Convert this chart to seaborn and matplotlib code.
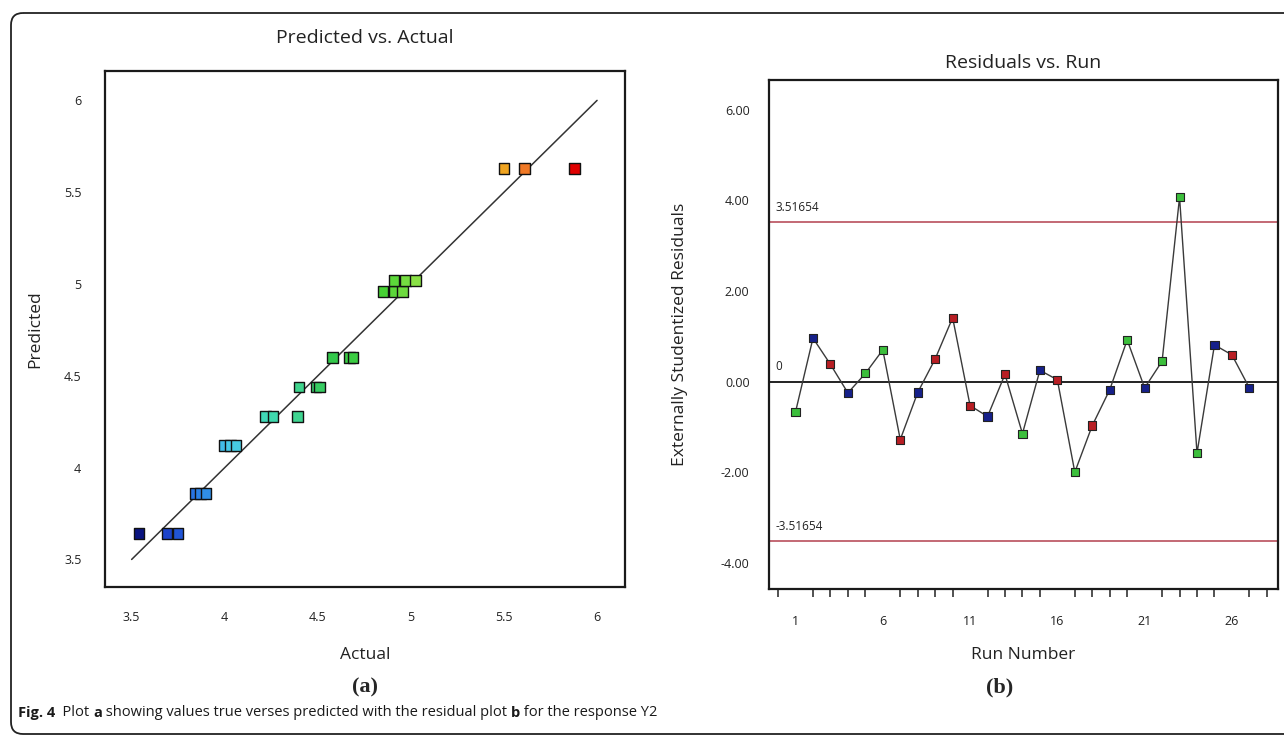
import numpy as np
import pandas as pd
import matplotlib
matplotlib.use("Agg")
import matplotlib.pyplot as plt
import seaborn as sns
from matplotlib.colors import LinearSegmentedColormap
from matplotlib.patches import FancyBboxPatch
from matplotlib.ticker import FixedLocator, MultipleLocator

# ---------------- data ----------------
actual = [3.54, 3.69, 3.75, 3.84, 3.87, 3.90, 4.00, 4.03, 4.06,
          4.22, 4.26, 4.39, 4.40, 4.49, 4.51, 4.58, 4.67, 4.69,
          4.85, 4.91, 4.955, 4.91, 4.97, 5.025, 5.50, 5.61, 5.88]
predicted = [3.64, 3.64, 3.64, 3.86, 3.86, 3.86, 4.12, 4.12, 4.12,
             4.28, 4.28, 4.28, 4.44, 4.44, 4.44, 4.60, 4.60, 4.60,
             4.96, 4.96, 4.96, 5.02, 5.02, 5.02, 5.63, 5.63, 5.63]
ref_line = [3.5, 6.0]
pa_ticks = [3.5, 4, 4.5, 5, 5.5, 6]
pa_ticklabels = ["3.5", "4", "4.5", "5", "5.5", "6"]

runs = list(range(1, 28))
residuals = [-0.67, 0.96, 0.38, -0.25, 0.18, 0.70, -1.28, -0.24, 0.50,
             1.41, -0.53, -0.77, 0.16, -1.15, 0.25, 0.04, -2.00, -0.97,
             -0.18, 0.92, -0.14, 0.45, 4.07, -1.58, 0.81, 0.59, -0.14]
run_group = ["g", "b", "r", "b", "g", "g", "r", "b", "r",
             "r", "r", "b", "r", "g", "b", "r", "g", "r",
             "b", "g", "b", "g", "g", "g", "b", "r", "b"]
limit = 3.51654
res_ticks = [-4, -2, 0, 2, 4, 6]
res_ticklabels = ["-4.00", "-2.00", "0.00", "2.00", "4.00", "6.00"]
run_major = [1, 6, 11, 16, 21, 26]

df_pa = pd.DataFrame({"Actual": actual, "Predicted": predicted})
df_run = pd.DataFrame({"Run": runs, "Residual": residuals, "Group": run_group})

# ---------------- style ----------------
sns.set_theme(style="white")
plt.rcParams["font.family"] = ["Open Sans", "DejaVu Sans"]

W, H = 1284, 736
fig = plt.figure(figsize=(W / 100, H / 100), dpi=100)

def ax_rect(x0, y0, x1, y1):
    return [x0 / W, 1 - y1 / H, (x1 - x0) / W, (y1 - y0) / H]

# background axes in pixel coordinates for frame + caption
bg = fig.add_axes([0, 0, 1, 1], zorder=-5)
bg.set_xlim(0, W)
bg.set_ylim(H, 0)
bg.axis("off")
bg.add_patch(FancyBboxPatch((11, 13), 1320, 721,
                            boxstyle="round,pad=0,rounding_size=12",
                            fill=False, lw=1.3, ec="#222222"))

ax1 = fig.add_axes(ax_rect(105, 71, 625, 587))
ax2 = fig.add_axes(ax_rect(769, 80, 1278, 589))

for ax in (ax1, ax2):
    for s in ax.spines.values():
        s.set_color("#1a1a1a")
        s.set_linewidth(1.6)
    ax.tick_params(direction="out", color="#222222", width=1.2,
                   labelsize=9, labelcolor="#222222")

# ---------- left panel: predicted vs actual ----------
cmap = LinearSegmentedColormap.from_list("de", [
    (0.00, "#0a1480"), (0.07, "#1e48d2"), (0.14, "#2a80e6"),
    (0.21, "#48cbe8"), (0.30, "#3fd8b0"), (0.37, "#3fd48c"),
    (0.44, "#33c84c"), (0.56, "#46d234"), (0.63, "#86e045"),
    (0.73, "#c8d840"), (0.84, "#f0a420"), (0.90, "#f06c28"),
    (1.00, "#e00000")])
sns.lineplot(x=ref_line, y=ref_line, ax=ax1, color="#333333", lw=1.1,
             zorder=1)
sns.scatterplot(data=df_pa, x="Actual", y="Predicted", hue="Actual",
                palette=cmap, hue_norm=(min(actual), max(actual)),
                marker="s", s=58, edgecolor="#111111", linewidth=1.0,
                legend=False, ax=ax1, zorder=3)
ax1.set_xlim(3.357, 6.15)
ax1.set_ylim(3.35, 6.16)
ax1.xaxis.set_major_locator(FixedLocator(pa_ticks))
ax1.yaxis.set_major_locator(FixedLocator(pa_ticks))
ax1.set_xticklabels(pa_ticklabels)
ax1.set_yticklabels(pa_ticklabels)
ax1.tick_params(axis="both", length=9, pad=8)
ax1.set_title("Predicted vs. Actual", fontsize=14, color="#222222", pad=20)
ax1.set_xlabel("Actual", fontsize=12.5, color="#222222")
ax1.set_ylabel("Predicted", fontsize=12.5, color="#222222")
ax1.xaxis.set_label_coords(0.5, -0.132)
ax1.xaxis.label.set_va("center")
ax1.yaxis.set_label_coords(-0.135, 0.5)
ax1.yaxis.label.set_va("center")

# ---------- right panel: residuals vs run ----------
ax2.axhline(0, color="#111111", lw=1.3, zorder=1)
ax2.axhline(limit, color="#b3404e", lw=1.1, zorder=1)
ax2.axhline(-limit, color="#b3404e", lw=1.1, zorder=1)
sns.lineplot(data=df_run, x="Run", y="Residual", ax=ax2, color="#3a3a3a",
             lw=1.0, sort=False, zorder=2)
sns.scatterplot(data=df_run, x="Run", y="Residual", hue="Group",
                palette={"g": "#3cbf3c", "b": "#16208a", "r": "#b81e24"},
                marker="s", s=34, edgecolor="#222222", linewidth=0.8,
                legend=False, ax=ax2, zorder=3)
ax2.set_xlim(-0.52, 28.64)
ax2.set_ylim(-4.58, 6.66)
ax2.xaxis.set_major_locator(FixedLocator(run_major))
ax2.xaxis.set_minor_locator(MultipleLocator(1))
ax2.yaxis.set_major_locator(FixedLocator(res_ticks))
ax2.set_yticklabels(res_ticklabels)
ax2.tick_params(axis="x", which="major", length=12, pad=7)
ax2.tick_params(axis="x", which="minor", length=6, width=1.1,
                color="#222222", bottom=True)
ax2.tick_params(axis="y", length=9, pad=5)
ax2.set_title("Residuals vs. Run", fontsize=14, color="#222222", pad=9)
ax2.set_xlabel("Run Number", fontsize=12.5, color="#222222")
ax2.set_ylabel("Externally Studentized Residuals", fontsize=12.5,
               color="#222222")
ax2.xaxis.set_label_coords(0.5, -0.13)
ax2.xaxis.label.set_va("center")
ax2.yaxis.set_label_coords(-0.175, 0.5)
ax2.yaxis.label.set_va("center")

blend = ax2.get_yaxis_transform()
ax2.text(0.012, limit + 0.18, "3.51654", transform=blend, fontsize=8.5,
         color="#222222", va="bottom", ha="left")
ax2.text(0.012, -limit + 0.18, "-3.51654", transform=blend, fontsize=8.5,
         color="#222222", va="bottom", ha="left")
ax2.text(0.012, 0.18, "0", transform=blend, fontsize=8.5,
         color="#222222", va="bottom", ha="left")

# ---------- panel letters & caption ----------
bg.text(365, 687, "(a)", fontsize=16, fontweight="bold",
        family=["Liberation Serif", "DejaVu Serif"], ha="center", va="center")
bg.text(1000, 687, "(b)", fontsize=16, fontweight="bold",
        family=["Liberation Serif", "DejaVu Serif"], ha="center", va="center")

pieces = [("Fig. 4", "bold"), ("  Plot ", "normal"), ("a", "bold"),
          (" showing values true verses predicted with the residual plot ",
           "normal"),
          ("b", "bold"), (" for the response Y2", "normal")]
renderer = fig.canvas.get_renderer()
xpos = 18
for txt, wt in pieces:
    t = bg.text(xpos, 713, txt, fontsize=10.5, fontweight=wt,
                color="#1a1a1a", ha="left", va="center")
    bb = t.get_window_extent(renderer=renderer)
    xpos += bb.width

fig.savefig("out.png", dpi=100)
